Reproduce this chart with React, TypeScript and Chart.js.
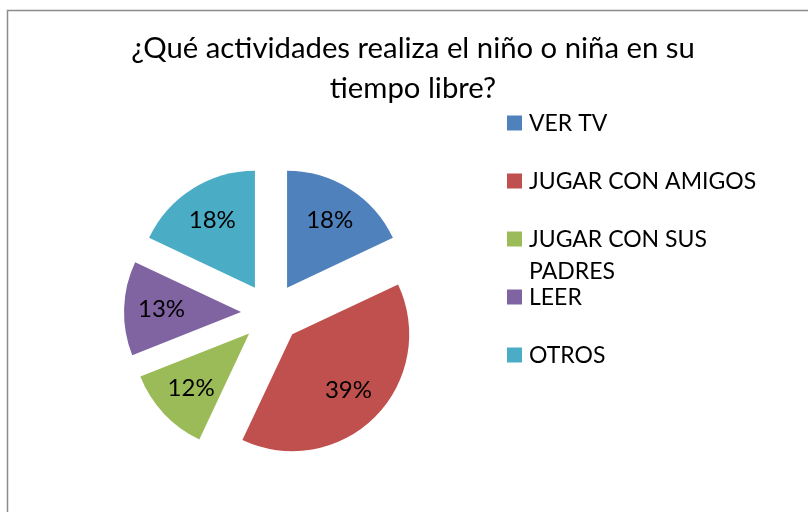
import React, { useEffect, useRef } from "react";
import { Chart, registerables } from "chart.js";

Chart.register(...registerables);

const TITLE_LINES = ["¿Qué actividades realiza el niño o niña en su", "tiempo libre?"];
const CATEGORIES = ["VER TV", "JUGAR CON AMIGOS", "JUGAR CON SUS PADRES", "LEER", "OTROS"];
const VALUES = [18, 39, 12, 13, 18];
const COLORS = ["#4F81BD", "#C0504D", "#9BBB59", "#8064A2", "#4BACC6"];

const FONT_FAMILY = "Lato, 'Open Sans', sans-serif";
const EXPLODE = 30;

function wrapText(ctx: CanvasRenderingContext2D, text: string, maxWidth: number): string[] {
  const words = text.split(" ");
  const lines: string[] = [];
  let cur = "";
  for (const w of words) {
    const test = cur ? cur + " " + w : w;
    if (cur && ctx.measureText(test).width > maxWidth) {
      lines.push(cur);
      cur = w;
    } else {
      cur = test;
    }
  }
  if (cur) lines.push(cur);
  return lines;
}

// Moves each slice outward along its bisector (exploded pie) without resizing it
const explodePlugin = {
  id: "explode",
  afterDatasetUpdate(chart: any, args: any) {
    const meta = chart.getDatasetMeta(args.index);
    meta.data.forEach((arc: any) => {
      const mid = (arc.startAngle + arc.endAngle) / 2;
      arc.x = arc.x + Math.cos(mid) * EXPLODE;
      arc.y = arc.y + Math.sin(mid) * EXPLODE;
    });
  },
};

const decorPlugin = {
  id: "decor",
  beforeDraw(chart: any) {
    const ctx = chart.ctx as CanvasRenderingContext2D;
    ctx.save();
    ctx.fillStyle = "#ffffff";
    ctx.fillRect(0, 0, chart.width, chart.height);
    ctx.strokeStyle = "#8c8c8c";
    ctx.lineWidth = 1.5;
    ctx.strokeRect(7.5, 10.5, 900, 600);
    ctx.restore();
  },
  afterDraw(chart: any) {
    const ctx = chart.ctx as CanvasRenderingContext2D;
    ctx.save();
    // Title
    ctx.fillStyle = "#000000";
    ctx.font = `29.3px ${FONT_FAMILY}`;
    ctx.textAlign = "center";
    ctx.textBaseline = "alphabetic";
    TITLE_LINES.forEach((line, i) => {
      ctx.fillText(line, 413, 58 + i * 40);
    });

    // Data labels
    ctx.font = `24px ${FONT_FAMILY}`;
    const meta = chart.getDatasetMeta(0);
    const data = chart.data.datasets[0].data as number[];
    const total = data.reduce((a, b) => a + b, 0);
    ctx.textAlign = "center";
    ctx.textBaseline = "middle";
    meta.data.forEach((arc: any, i: number) => {
      const p = arc.getProps(["x", "y", "startAngle", "endAngle", "outerRadius"], true);
      const mid = (p.startAngle + p.endAngle) / 2;
      const d = p.outerRadius * 0.68;
      const lx = p.x + Math.cos(mid) * d;
      const ly = p.y + Math.sin(mid) * d;
      const pct = Math.round((data[i] / total) * 100) + "%";
      ctx.fillText(pct, lx, ly);
    });

    // Legend
    ctx.font = `23px ${FONT_FAMILY}`;
    ctx.textAlign = "left";
    ctx.textBaseline = "alphabetic";
    const labels = chart.data.labels as string[];
    const colors = chart.data.datasets[0].backgroundColor as string[];
    labels.forEach((lab, i) => {
      const cy = 123 + i * 58;
      ctx.fillStyle = colors[i];
      ctx.fillRect(507, cy - 7.5, 15, 15);
      ctx.fillStyle = "#000000";
      const lines = wrapText(ctx, lab, 250);
      lines.forEach((ln, j) => {
        ctx.fillText(ln, 529, cy + 8 + j * 32);
      });
    });
    ctx.restore();
  },
};

export default function App() {
  const ref = useRef<HTMLCanvasElement | null>(null);
  useEffect(() => {
    document.body.style.margin = "0";
    if (!ref.current) return;
    const chart = new Chart(ref.current, {
      type: "pie",
      data: {
        labels: CATEGORIES,
        datasets: [
          {
            data: VALUES,
            backgroundColor: COLORS,
            borderWidth: 0,
            hoverOffset: 0,
          },
        ],
      },
      options: {
        responsive: false,
        animation: false,
        events: [],
        radius: 117,
        layout: { padding: { left: 138, right: 404, top: 180, bottom: 66 } },
        plugins: {
          legend: { display: false },
          title: { display: false },
          tooltip: { enabled: false },
        },
      } as any,
      plugins: [explodePlugin, decorPlugin],
    });
    return () => chart.destroy();
  }, []);
  return (
    <div style={{ position: "fixed", left: 0, top: 0, width: 808, height: 512, background: "#fff", overflow: "hidden" }}>
      <canvas ref={ref} width={808} height={512} style={{ display: "block", width: 808, height: 512 }} />
    </div>
  );
}
